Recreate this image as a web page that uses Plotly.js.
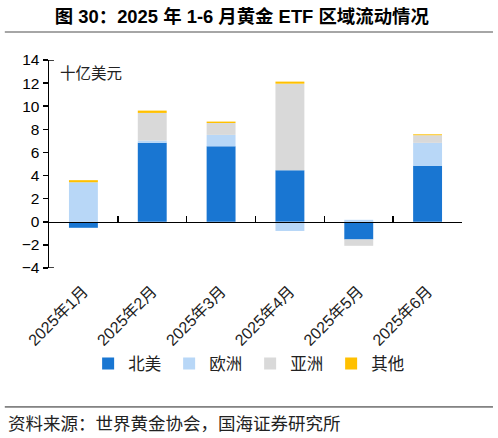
<!DOCTYPE html>
<html>
<head>
<meta charset="utf-8">
<script src="https://cdn.plot.ly/plotly-3.0.1.min.js"></script>
<style>
  body { margin: 0; background: #fff; }
  #myDiv { width: 498px; height: 438px; }
</style>
</head>
<body>
<div id="myDiv"></div>
<script>
// months and flows by region (billion USD)
var months = ['2025年1月', '2025年2月', '2025年3月', '2025年4月', '2025年5月', '2025年6月'];
var northAmerica = [-0.52, 6.83, 6.53, 4.46, -1.53, 4.84];
var europe = [3.42, 0.20, 0.99, -0.80, 0.17, 1.99];
var asia = [0.0, 2.39, 1.03, 7.49, -0.55, 0.66];
var other = [0.18, 0.20, 0.12, 0.18, 0.0, 0.08];

var seriesNames = ['北美', '欧洲', '亚洲', '其他'];
var colors = ['#1976d2', '#b8d7f7', '#d9d9d9', '#ffc000'];

var font = 'Liberation Sans, Arial, Noto Sans CJK SC, sans-serif';
var cjk = 'Noto Sans CJK SC, sans-serif';

var values = [northAmerica, europe, asia, other];
var data = values.map(function (v, i) {
    return {
        type: 'bar',
        x: months,
        y: v,
        name: seriesNames[i],
        marker: { color: colors[i] },
        xaxis: 'x',
        yaxis: 'y'
    };
});

// invisible trace so the bottom label axis is drawn
data.push({
    type: 'scatter',
    x: months,
    y: months.map(function () { return null; }),
    xaxis: 'x2',
    yaxis: 'y',
    showlegend: false,
    hoverinfo: 'skip'
});

var yMin = -4, yMax = 14;

var layout = {
    width: 498,
    height: 438,
    margin: { l: 49, r: 36, t: 60, b: 170 },
    paper_bgcolor: '#fff',
    plot_bgcolor: '#fff',
    font: { family: font, color: '#000', size: 15 },
    barmode: 'relative',
    bargap: 0.58,
    title: {
        text: '<b>图 30：2025 年 1-6 月黄金 ETF 区域流动情况</b>',
        font: { family: font, size: 18.4, color: '#000' },
        x: 0.014, xanchor: 'left', xref: 'paper',
        y: 0.962, yanchor: 'middle'
    },
    xaxis: {
        type: 'category',
        categoryorder: 'array',
        categoryarray: months,
        range: [-0.5, 5.5],
        anchor: 'free',
        position: (0 - yMin) / (yMax - yMin),
        showline: true,
        linecolor: '#000',
        linewidth: 1.5,
        ticks: 'inside',
        tickson: 'boundaries',
        ticklen: 6,
        tickwidth: 1.5,
        tickcolor: '#000',
        showticklabels: false,
        showgrid: false,
        zeroline: false
    },
    xaxis2: {
        type: 'category',
        categoryorder: 'array',
        categoryarray: months,
        range: [-0.5, 5.5],
        overlaying: 'x',
        anchor: 'y',
        side: 'bottom',
        showline: false,
        ticks: '',
        tickangle: -45,
        ticklabelstandoff: 10,
        tickfont: { family: font, size: 16, color: '#222' },
        showgrid: false,
        zeroline: false
    },
    yaxis: {
        range: [yMin, yMax],
        dtick: 2,
        showline: true,
        linecolor: '#000',
        linewidth: 1.5,
        ticks: 'outside',
        ticklen: 5,
        tickwidth: 1.5,
        tickcolor: '#000',
        tickfont: { family: font, size: 15.5, color: '#000' },
        showgrid: false,
        zeroline: false
    },
    legend: {
        orientation: 'h',
        x: 0.487, xanchor: 'center',
        y: -0.46, yanchor: 'middle',
        font: { family: font, size: 16.5, color: '#222' },
        traceorder: 'normal',
        itemwidth: 30,
        entrywidth: 36,
        entrywidthmode: 'pixels'
    },
    annotations: [
        {
            text: '十亿美元', xref: 'paper', yref: 'paper',
            x: 0.022, y: 0.942, xanchor: 'left', yanchor: 'middle',
            showarrow: false, font: { family: cjk, size: 15.5, color: '#222' }
        },
        {
            text: '资料来源：世界黄金协会，国海证券研究所', xref: 'paper', yref: 'paper',
            x: -0.104, y: -0.745, xanchor: 'left', yanchor: 'middle',
            showarrow: false, font: { family: cjk, size: 17.5, color: '#222' }
        }
    ],
    shapes: [
        // rule under the title
        { type: 'line', xref: 'paper', yref: 'paper', x0: -0.107, x1: 1.075, y0: 1.135, y1: 1.135,
          line: { color: '#888', width: 1.5 } },
        // rule above the source
        { type: 'line', xref: 'paper', yref: 'paper', x0: -0.107, x1: 1.075, y0: -0.668, y1: -0.668,
          line: { color: '#222', width: 1 } },
        // small end caps on the value axis
        { type: 'line', xref: 'paper', yref: 'y', x0: 0, x1: 0.012, y0: yMax, y1: yMax,
          line: { color: '#000', width: 1.5 } },
        { type: 'line', xref: 'paper', yref: 'y', x0: 0, x1: 0.012, y0: yMin, y1: yMin,
          line: { color: '#000', width: 1.5 } }
    ]
};

Plotly.newPlot('myDiv', data, layout, { displayModeBar: false, staticPlot: true });
</script>
</body>
</html>
